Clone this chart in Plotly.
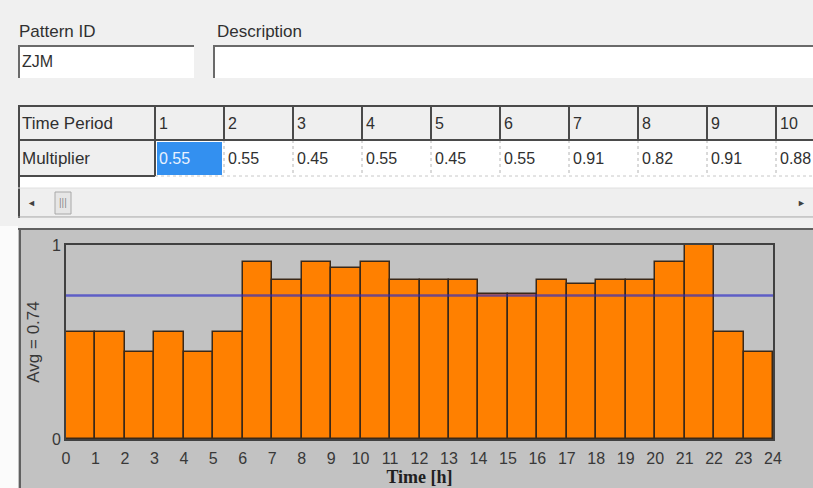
import plotly.graph_objects as go

# ---------------- data ----------------
pattern_id = "ZJM"
periods = list(range(1, 25))
multipliers = [0.55, 0.55, 0.45, 0.55, 0.45, 0.55, 0.91, 0.82, 0.91, 0.88, 0.91, 0.82,
               0.82, 0.82, 0.75, 0.75, 0.82, 0.80, 0.82, 0.82, 0.91, 1.00, 0.55, 0.45]
hour_ticks = list(range(0, 25))
avg = round(sum(multipliers) / len(multipliers), 2)

W, H = 813, 488
def px(x): return x / W
def py(y): return 1 - y / H

UI_FONT = "Liberation Sans"
shapes, annos = [], []

def rect(x0, y0, x1, y1, fill, line=None, lw=0, layer="below"):
    shapes.append(dict(type="rect", xref="paper", yref="paper", x0=px(x0), x1=px(x1),
                       y0=py(y1), y1=py(y0), fillcolor=fill, layer=layer,
                       line=dict(color=line or fill, width=lw)))

def hline(x0, x1, y, color, w=1, dash="solid", layer="below"):
    shapes.append(dict(type="line", xref="paper", yref="paper", x0=px(x0), x1=px(x1),
                       y0=py(y), y1=py(y), layer=layer, line=dict(color=color, width=w, dash=dash)))

def vline(x, y0, y1, color, w=1, dash="solid", layer="below"):
    shapes.append(dict(type="line", xref="paper", yref="paper", x0=px(x), x1=px(x),
                       y0=py(y0), y1=py(y1), layer=layer, line=dict(color=color, width=w, dash=dash)))

def text(x, y, s, size=17, color="#303030", anchor="left", font=UI_FONT):
    annos.append(dict(xref="paper", yref="paper", x=px(x), y=py(y), text=s,
                      showarrow=False, xanchor=anchor, yanchor="middle", borderpad=0,
                      font=dict(family=font, size=size, color=color)))

# ---------------- top form ----------------
text(18, 32, "Pattern ID")
text(216, 32, "Description")
for (x0, x1) in [(18, 194), (213, 813)]:
    rect(x0, 45, x1, 78, "#ffffff")
    hline(x0, x1, 46, "#6a6a6a", 2)
    vline(x0 + 1, 45, 78, "#6a6a6a", 2)
text(21, 62, pattern_id, size=16)

# ---------------- table ----------------
tx0, hx1, cw = 18, 155, 69
r0, r1, r2 = 106, 140, 176
rect(tx0, r0, 813, 218, "#ffffff")
rect(tx0, r0, 813, r1, "#efefef")
rect(tx0, r1, hx1, r2, "#efefef")
rect(tx0, 188, 813, 217, "#efefef")
ncols = 10
rect(hx1 + 2, r1 + 2, hx1 + cw - 2, r2 - 1, "#3390f0")
for i in range(ncols):
    cx = hx1 + i * cw
    if i > 0:
        vline(cx, r1, r2, "#b4b4b4", 1, "dot")
    vline(cx, r0, r1, "#4a4a4a", 2)
    text(cx + 3, (r0 + r1) / 2 + 1, str(periods[i]), size=16)
    text(cx + 3, (r1 + r2) / 2 + 1, "%.2f" % multipliers[i], size=16,
         color="#e8f2ff" if i == 0 else "#303030")
hline(tx0, 813, r0, "#4a4a4a", 2)
hline(tx0, 813, r1, "#4a4a4a", 2)
hline(hx1, 813, r2, "#c8c8c8", 1, "dot")
hline(tx0, hx1, r2, "#4a4a4a", 2)
vline(hx1, r1, r2, "#4a4a4a", 2)
vline(tx0 + 1, r0, 218, "#4a4a4a", 2)
text(21, (r0 + r1) / 2 + 1, "Time Period")
text(21, (r1 + r2) / 2 + 1, "Multiplier")
# scrollbar
hline(tx0, 813, 188, "#e0e0e0", 1)
hline(tx0, 813, 217, "#a0a0a0", 1)
text(26, 203, "◄", size=9, color="#404040")
rect(55, 192, 71, 214, "#e6e6e6", "#a8a8a8", 1)
text(63, 203, "|||", size=10, color="#8a8a8a", anchor="center")
text(796, 203, "►", size=9, color="#404040")

# ---------------- chart panel ----------------
rect(0, 226, 18, H, "#fbfbfb")
rect(18, 228, W, H, "#c2c2c2")
hline(18, W, 229, "#606060", 2)
vline(20, 228, H, "#606060", 2)

bar_x = [p - 0.5 for p in periods]

fig = go.Figure()
fig.add_trace(go.Bar(x=bar_x, y=multipliers, width=1,
                     marker=dict(color="#ff8000", line=dict(color="#3a2818", width=1.5)),
                     hoverinfo="x+y"))
fig.add_trace(go.Scatter(x=[hour_ticks[0], hour_ticks[-1]], y=[avg, avg], mode="lines",
                         line=dict(color="rgba(40,40,200,0.65)", width=2.5),
                         hoverinfo="y"))

fig.update_layout(
    width=W, height=H, margin=dict(l=0, r=0, t=0, b=0, pad=0, autoexpand=False),
    paper_bgcolor="#f0f0f0", plot_bgcolor="#c2c2c2",
    showlegend=False, bargap=0,
    shapes=shapes, annotations=annos,
    xaxis=dict(domain=[px(66), px(773)], range=[0, 24], tickvals=hour_ticks,
               ticktext=[str(h) for h in hour_ticks], showgrid=False, zeroline=False,
               showline=True, linecolor="#404040", linewidth=2, mirror=True,
               ticks="", ticklen=0, automargin=False, ticklabelstandoff=4,
               tickfont=dict(family="Liberation Sans", size=16, color="#383838"),
               title=dict(text="<b>Time [h]</b>", standoff=0,
                          font=dict(family="Liberation Serif", size=18, color="#202020"))),
    yaxis=dict(domain=[py(439), py(245)], range=[0, 1], tickvals=[0, 1],
               ticktext=["0", "1"], showgrid=False, zeroline=False,
               showline=True, linecolor="#404040", linewidth=2, mirror=True,
               ticks="", ticklen=0, automargin=False,
               tickfont=dict(family="Liberation Sans", size=16, color="#383838"),
               title=dict(text="Avg = %.2f" % avg, standoff=8,
                          font=dict(family="Liberation Sans", size=17, color="#383838"))),
)

fig.write_html("out.html", config={"displayModeBar": False},
               post_script="document.body.style.margin='0';")
